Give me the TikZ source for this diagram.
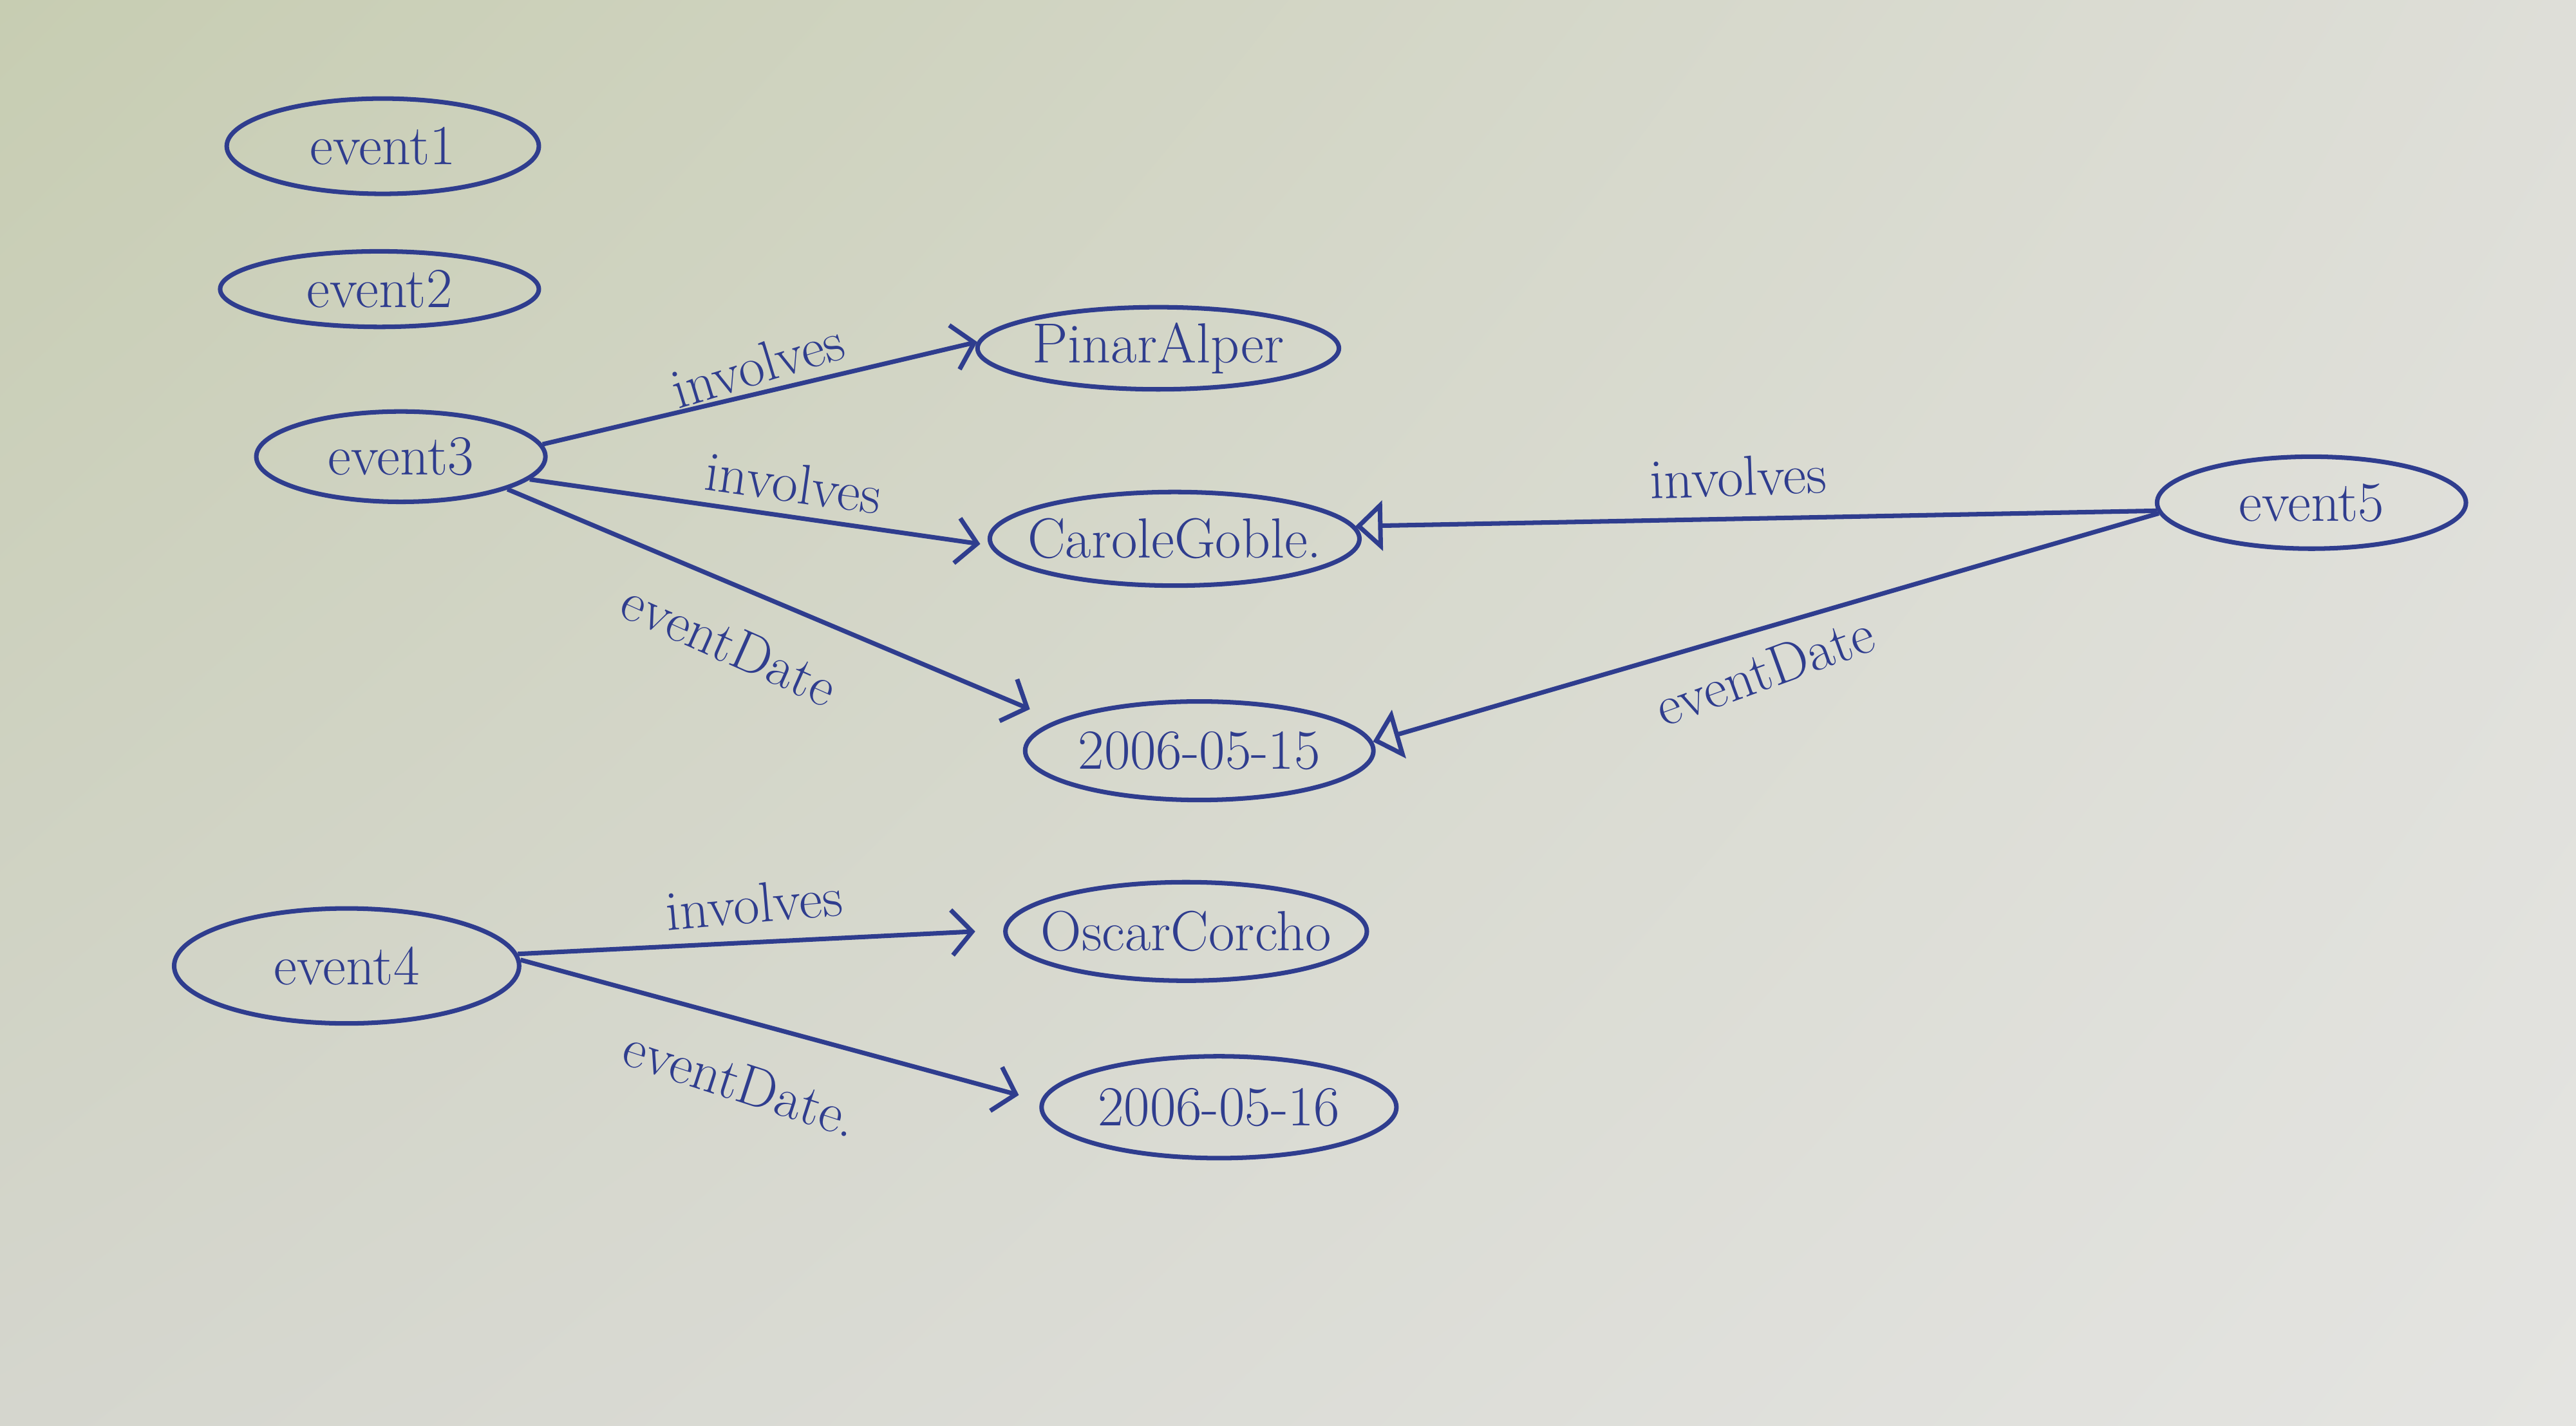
\documentclass[tikz,border=0pt]{standalone}
\usetikzlibrary{shapes.geometric,arrows.meta,shadings}
\definecolor{ink}{HTML}{2F3D8E}
\definecolor{pUL}{HTML}{C7CDB2}
\definecolor{pUR}{HTML}{DEDED8}
\definecolor{pLL}{HTML}{D5D6CE}
\definecolor{pLR}{HTML}{E4E4E1}
\tikzset{
  ell/.style n args={2}{ellipse, draw=ink, line width=2pt, text=ink,
    minimum width={#1*0.02552cm}, minimum height={#2*0.02552cm}, inner sep=0pt,
    font=\fontsize{25}{30}\selectfont},
  lbl/.style={text=ink, inner sep=1pt, font=\fontsize{25}{30}\selectfont},
  edge/.style={draw=ink, line width=2pt, -{Straight Barb[length=9pt,width=20pt,line width=2pt]}},
  tedge/.style={draw=ink, line width=2pt, -{Triangle[open,length=12pt,width=22pt,line width=2pt]}}
}
\newcommand\zw[1]{\makebox[0pt]{#1}}
\begin{document}
\begin{tikzpicture}[x=0.02552cm,y=-0.02552cm]
\shade[upper left=pUL, upper right=pUR, lower left=pLL, lower right=pLR] (0,0) rectangle (1568,868);
\useasboundingbox (0,0) rectangle (1568,868);

\node[ell={190}{58}] (e1) at (233,89) {\zw{event1}};
\node[ell={194}{46}] (e2) at (231,176) {\zw{event2}};
\node[ell={176}{55}] (e3) at (244,278) {\zw{event3}};
\node[ell={220}{50}] (pinar) at (705,212) {\zw{PinarAlper}};
\node[ell={225}{57}] (carole) at (715,328) {\zw{CaroleGoble.}};
\node[ell={212}{60}] (d15) at (730,457) {\zw{2006-05-15}};
\node[ell={188}{56}] (e5) at (1407,306) {\zw{event5}};
\node[ell={210}{70}] (e4) at (211,588) {\zw{event4}};
\node[ell={220}{60}] (oscar) at (722,567) {\zw{OscarCorcho}};
\node[ell={216}{62}] (d16) at (742,674) {\zw{2006-05-16}};

\draw[edge] (e3.5) -- (pinar.178);
\draw[edge, shorten >=4pt] (e3.-10) -- (carole.182);
\draw[edge, shorten >=0.45cm] (e3.-17) -- (d15.168);
\draw[tedge] (e5.183) -- (carole.4);
\draw[tedge] (e5.184) -- (d15.3);
\draw[edge] (e4.4) -- ([xshift=-17*0.02552cm]oscar.180);
\draw[edge, shorten >=0.35cm] (e4.2) -- (d16.178);

\node[lbl, rotate=17] (l1) at (461,222) {involves};
\node[lbl, rotate=-8] (l2) at (483,294) {involves};
\node[lbl, rotate=-24] (l3) at (444,392) {eventDate};
\node[lbl, rotate=2] (l4) at (1058,290) {involves};
\node[lbl, rotate=20] (l5) at (1074,408) {eventDate};
\node[lbl, rotate=5] (l6) at (459,550) {involves};
\node[lbl, rotate=-18] (l7) at (451,659) {eventDate.};
\end{tikzpicture}
\end{document}
